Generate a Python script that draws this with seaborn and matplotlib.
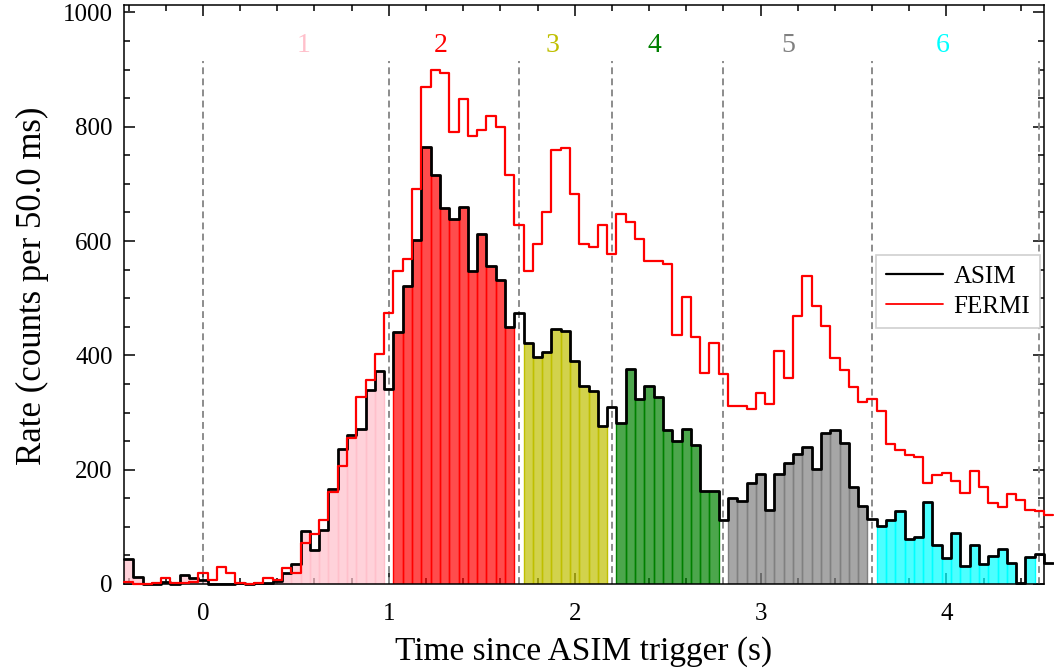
import numpy as np
import pandas as pd
import matplotlib
matplotlib.use("Agg")
import matplotlib.pyplot as plt
import seaborn as sns
from matplotlib.ticker import MultipleLocator
from matplotlib.lines import Line2D

# 50 ms light-curve bins, first bin centred at -0.40 s
bin_width = 0.05
first_bin_center = -0.40

asim_rate = [
    43, 13, 0, 0, 3, 0, 16, 11, 7, 0,
    0, 0, 2, 0, 2, 2, 5, 20, 35, 92,
    60, 95, 166, 236, 260, 271, 339, 372, 342, 441,
    521, 601, 765, 715, 657, 639, 660, 548, 613, 556,
    532, 449, 474, 421, 397, 406, 446, 442, 390, 346,
    337, 277, 310, 281, 377, 324, 347, 327, 270, 251,
    271, 243, 163, 163, 112, 151, 146, 176, 193, 130,
    193, 211, 228, 239, 202, 265, 270, 246, 169, 137,
    113, 101, 112, 128, 79, 83, 144, 68, 45, 90,
    31, 68, 35, 49, 61, 37, 2, 47, 52, 37,
]

fermi_rate = [
    4, 0, 0, 2, 11, 2, 2, 4, 19, 7,
    30, 19, 2, 0, 2, 11, 7, 28, 19, 71,
    88, 112, 161, 206, 255, 328, 357, 402, 474, 547,
    568, 691, 869, 900, 894, 791, 848, 783, 795, 818,
    800, 715, 628, 548, 595, 650, 759, 763, 682, 595,
    590, 628, 577, 647, 634, 604, 565, 565, 559, 435,
    503, 432, 370, 421, 368, 311, 312, 307, 335, 315,
    408, 360, 469, 539, 486, 451, 396, 374, 344, 318,
    323, 302, 245, 235, 226, 222, 177, 191, 195, 181,
    160, 198, 170, 142, 134, 158, 147, 130, 127, 121,
]

# interval boundaries (s) and the dashed markers
interval_ends = [1.0, 1.7, 2.2, 2.8, 3.6, 4.5]
marker_times = [0.0, 1.0, 1.7, 2.2, 2.8, 3.6, 4.5]
interval_names = ["1", "2", "3", "4", "5", "6"]
interval_colors = ["pink", "red", "#bfbf00", "green", "gray", "cyan"]
interval_label_x = [0.54, 1.28, 1.88, 2.43, 3.15, 3.98]

centers = np.round(first_bin_center + bin_width * np.arange(len(asim_rate)), 3)
df = pd.DataFrame({"t": centers, "asim": asim_rate, "fermi": fermi_rate})

sns.set_theme(style="ticks")
plt.rcParams["font.family"] = ["Liberation Serif", "DejaVu Serif"]
plt.rcParams.update({
    "axes.linewidth": 1.1,
    "axes.edgecolor": "black",
    "axes.labelcolor": "black",
    "text.color": "black",
    "xtick.color": "black",
    "ytick.color": "black",
})

fig = plt.figure(figsize=(10.54, 6.71), dpi=100)
ax = fig.add_axes([0.1176, 0.1297, 0.8729, 0.8628])

# filled ASIM bins for each interval (bins straddling a boundary stay empty)
starts = [-np.inf] + interval_ends[:-1]
for lo, hi, col in zip(starts, interval_ends, interval_colors):
    sel = df[(df.t > lo + 1e-6) & (df.t < hi - 1e-6)]
    edges = np.round(np.append(sel.t.values - bin_width / 2,
                               sel.t.values[-1] + bin_width / 2), 3)
    sns.histplot(data=sel, x="t", weights="asim", bins=[float(e) for e in edges],
                 color=col, alpha=0.7, edgecolor=col, linewidth=1.0, ax=ax)

# step outlines of both light curves
step_x = np.round(np.append(df.t.values - bin_width / 2,
                            df.t.values[-1] + bin_width / 2), 3)
for col_name, col, lw in [("asim", "black", 2.0), ("fermi", "red", 1.6)]:
    vals = df[col_name].values
    step_y = np.append(vals, vals[-1])
    sns.lineplot(x=step_x, y=step_y, drawstyle="steps-post", color=col,
                 linewidth=lw, ax=ax, clip_on=False, zorder=3)

ax.vlines(marker_times, 0, 915, colors="#8c8c8c",
          linestyles=(0, (3.5, 2.2)), linewidth=1.4, zorder=2)

for name, x, col in zip(interval_names, interval_label_x, interval_colors):
    ax.text(x, 943, name, color=col, fontsize=20, ha="center", va="center")

ax.set_xlim(-0.425, 4.525)
ax.set_ylim(0, 1013)
ax.xaxis.set_major_locator(MultipleLocator(1))
ax.xaxis.set_minor_locator(MultipleLocator(0.2))
ax.yaxis.set_major_locator(MultipleLocator(200))
ax.yaxis.set_minor_locator(MultipleLocator(50))
ax.tick_params(which="both", direction="in", top=True, right=True,
               width=1.1, labelsize=18)
ax.tick_params(axis="x", which="both", pad=14)
ax.tick_params(axis="y", which="both", pad=8)
ax.tick_params(which="major", length=8)
ax.tick_params(which="minor", length=4.5)

ax.set_xlabel("Time since ASIM trigger (s)", fontsize=24, labelpad=8)
ax.set_ylabel("Rate (counts per 50.0 ms)", fontsize=25)
ax.yaxis.set_label_coords(-0.081, 0.515)

handles = [Line2D([], [], color="black", linewidth=1.6),
           Line2D([], [], color="red", linewidth=1.3)]
leg = ax.legend(handles, ["ASIM", "FERMI"], loc="center right",
                bbox_to_anchor=(1.0, 0.505), borderaxespad=0.15,
                fontsize=18, frameon=True, fancybox=False, framealpha=1,
                edgecolor="#d0d0d0", handlelength=2.3, handletextpad=0.4,
                labelspacing=0.3, borderpad=0.4)
leg.get_frame().set_linewidth(1.2)

fig.savefig("out.png", dpi=100)
